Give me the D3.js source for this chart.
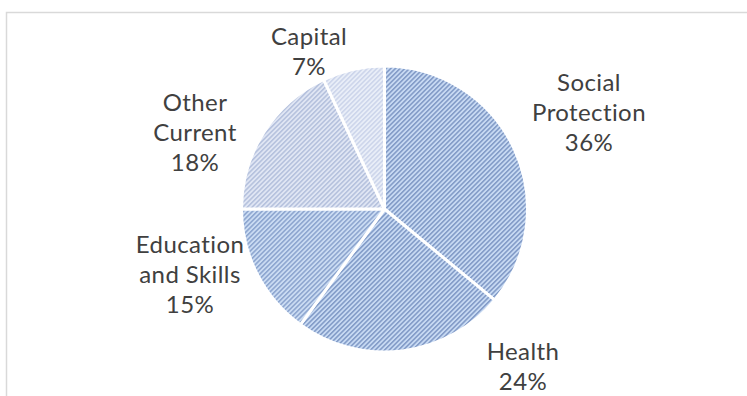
<!DOCTYPE html>
<html>
<head>
<meta charset="utf-8">
<script src="https://cdn.jsdelivr.net/npm/d3@7"></script>
<style>
  html, body { margin: 0; padding: 0; background: #fff; }
  svg { display: block; }
</style>
</head>
<body>
<svg id="chart" width="747" height="396"></svg>
<script>
// Spending shares by function
const categories = ["Social Protection", "Health", "Education and Skills", "Other Current", "Capital"];
const labelLines = [["Social", "Protection"], ["Health"], ["Education", "and Skills"], ["Other", "Current"], ["Capital"]];
const values = [36, 24, 15, 18, 7];
const pctLabels = ["36%", "24%", "15%", "18%", "7%"];

// hatch fills: background / stripe colour per slice
const hatchBg = ["#c8daf3", "#c8daf3", "#cbdcf3", "#e0e6f4", "#e9eef8"];
const hatchFg = ["#7f98c5", "#7f98c5", "#8aa3cd", "#b3bfdc", "#cbd4ea"];

// label anchor points (centre of first text line)
const labelPos = [[589, 83], [523, 352], [190, 245], [195, 103], [309, 37]];

const svg = d3.select("#chart");
const W = 747, H = 396;

// chart area border
svg.append("rect")
  .attr("x", 6.5).attr("y", 12.5)
  .attr("width", W + 20).attr("height", H + 20)
  .attr("fill", "#fff").attr("stroke", "#d9d9d9").attr("stroke-width", 1.5);

const defs = svg.append("defs");
values.forEach((v, i) => {
  const p = defs.append("pattern")
    .attr("id", "hatch" + i)
    .attr("patternUnits", "userSpaceOnUse")
    .attr("width", 3.3).attr("height", 3.3)
    .attr("patternTransform", "rotate(-45)");
  p.append("rect").attr("width", 3.3).attr("height", 3.3).attr("fill", hatchBg[i]);
  p.append("rect").attr("y", 0).attr("width", 3.3).attr("height", 1.5).attr("fill", hatchFg[i]);
});

const cx = 384.5, cy = 209, r = 143;

const pie = d3.pie().sort(null).value(d => d);
const arc = d3.arc().innerRadius(0).outerRadius(r);

const g = svg.append("g").attr("transform", `translate(${cx},${cy})`);
g.selectAll("path.slice")
  .data(pie(values))
  .join("path")
  .attr("class", "slice")
  .attr("d", arc)
  .attr("fill", (d, i) => `url(#hatch${i})`)
  .attr("stroke", "#fff")
  .attr("stroke-width", 3)
  .attr("stroke-linejoin", "round");

// data labels, one text element per line
const lineH = 30;
const fontSize = 24;
categories.forEach((c, i) => {
  const lines = labelLines[i].concat([pctLabels[i]]);
  const [x, y] = labelPos[i];
  svg.append("g")
    .selectAll("text")
    .data(lines)
    .join("text")
    .attr("x", x)
    .attr("y", (d, k) => y + k * lineH)
    .attr("dy", "0.35em")
    .attr("text-anchor", "middle")
    .attr("font-family", "Lato, 'Open Sans', sans-serif")
    .attr("font-size", fontSize)
    .attr("letter-spacing", 0.4)
    .attr("fill", "#404040")
    .text(d => d);
});
</script>
</body>
</html>
